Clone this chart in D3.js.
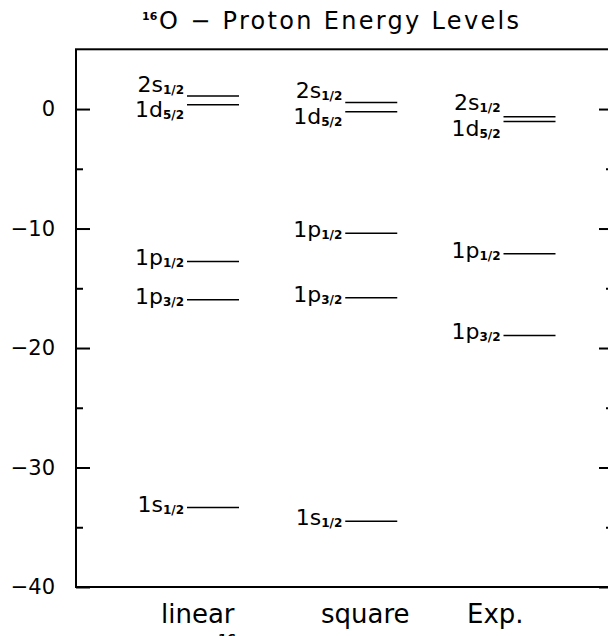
<!DOCTYPE html>
<html lang="en">
<head>
<meta charset="utf-8">
<title>16O proton energy levels</title>
<script src="https://cdn.jsdelivr.net/npm/d3@7"></script>
<style>
  body { margin: 0; background: #fff; font-family: "DejaVu Sans", sans-serif; }
  .axis path { display: none; }
  .axis line { stroke: #000; stroke-width: 2px; }
  .axis text { font-size: 21px; fill: #000; font-family: "DejaVu Sans", sans-serif; }
  .level { stroke: #000; stroke-width: 1.5px; }
</style>
</head>
<body>
<div id="chart"></div>
<script>
// data (MeV)
var categories = ["linear", "square", "Exp."];
var orbitals = ["1s", "1p", "1p", "1d", "2s"];
var spins = ["1/2", "3/2", "1/2", "5/2", "1/2"];
var linearEnergy = [-33.35, -15.95, -12.75, 0.36, 1.1];
var squareEnergy = [-34.5, -15.8, -10.4, -0.23, 0.55];
var expEnergy = [null, -18.95, -12.1, -1.05, -0.64];
var yMajorTicks = [0, -10, -20, -30, -40];
var yMinorTicks = [-5, -15, -25, -35];

var energies = [linearEnergy, squareEnergy, expEnergy];

// layout
var W = 608, H = 636;
var frame = {left: 76, right: 613, top: 49.3, bottom: 587};
var halfLine = 26;
var catLabelX = [161, 321, 467];

var svg = d3.select("#chart").append("svg")
  .attr("width", W).attr("height", H);

var y = d3.scaleLinear().domain([-40, 5]).range([frame.bottom, frame.top]);
var x = d3.scalePoint().domain(categories).range([213, 529.5]);

// frame
svg.append("rect")
  .attr("x", frame.left).attr("y", frame.top)
  .attr("width", frame.right - frame.left)
  .attr("height", frame.bottom - frame.top)
  .attr("fill", "none").attr("stroke", "#000").attr("stroke-width", 2);

// left ticks (inward) + labels
svg.append("g").attr("class", "axis")
  .attr("transform", "translate(" + frame.left + ",0)")
  .call(d3.axisRight(y).tickValues(yMajorTicks).tickSize(14).tickFormat(""));
svg.append("g").attr("class", "axis")
  .attr("transform", "translate(" + frame.left + ",0)")
  .call(d3.axisRight(y).tickValues(yMinorTicks).tickSize(7).tickFormat(""));
svg.append("g").attr("class", "axis")
  .attr("transform", "translate(" + frame.left + ",0)")
  .call(d3.axisLeft(y).tickValues(yMajorTicks).tickSize(0).tickPadding(21)
    .tickFormat(function(d) { return d < 0 ? "\u2212" + Math.abs(d) : d; }))
  .selectAll("text").attr("dy", "0.32em");

// right ticks (inward)
svg.append("g").attr("class", "axis")
  .attr("transform", "translate(" + frame.right + ",0)")
  .call(d3.axisLeft(y).tickValues(yMajorTicks).tickSize(14).tickFormat(""));
svg.append("g").attr("class", "axis")
  .attr("transform", "translate(" + frame.right + ",0)")
  .call(d3.axisLeft(y).tickValues(yMinorTicks).tickSize(7).tickFormat(""));

// build level records
var levels = [];
categories.forEach(function(c, ci) {
  var col = [];
  energies[ci].forEach(function(e, li) {
    if (e === null) return;
    col.push({cat: c, e: e, orb: orbitals[li], spin: spins[li], ly: y(e) + 4});
  });
  // spread labels that sit too close together
  col.sort(function(a, b) { return a.ly - b.ly; });
  for (var i = 1; i < col.length; i++) {
    var gap = col[i].ly - col[i - 1].ly;
    if (gap < 25) {
      var mid = (col[i].ly + col[i - 1].ly) / 2;
      col[i - 1].ly = mid - 12.8;
      col[i].ly = mid + 12.8;
    }
  }
  levels = levels.concat(col);
});

// level lines
svg.selectAll(".level").data(levels).enter().append("line")
  .attr("class", "level")
  .attr("x1", function(d) { return x(d.cat) - halfLine; })
  .attr("x2", function(d) { return x(d.cat) + halfLine; })
  .attr("y1", function(d) { return y(d.e); })
  .attr("y2", function(d) { return y(d.e); });

// level labels
var lab = svg.selectAll(".lab").data(levels).enter().append("text")
  .attr("class", "lab")
  .attr("text-anchor", "end")
  .attr("x", function(d) { return x(d.cat) - halfLine - 3; })
  .attr("y", function(d) { return d.ly; });
lab.append("tspan").style("font-size", "22px").text(function(d) { return d.orb; });
lab.append("tspan").style("font-size", "12px").style("font-weight", "bold")
  .attr("dy", 2).text(function(d) { return d.spin; });

// category labels
svg.selectAll(".cat").data(categories).enter().append("text")
  .attr("class", "cat")
  .attr("x", function(d, i) { return catLabelX[i]; })
  .attr("y", 623)
  .style("font-size", "26px")
  .text(function(d) { return d; });

// title
svg.append("text").attr("x", 142).attr("y", 20)
  .style("font-size", "11px").style("font-weight", "bold").text("16");
svg.append("text").attr("x", 159).attr("y", 29)
  .style("font-size", "24px")
  .attr("textLength", 360).attr("lengthAdjust", "spacing")
  .text("O \u2212 Proton Energy Levels");

// x title superscript, cut off at the bottom edge as in the source
svg.append("text").attr("x", 218).attr("y", 643)
  .style("font-size", "13px").style("font-weight", "bold").text("16");
</script>
</body>
</html>
